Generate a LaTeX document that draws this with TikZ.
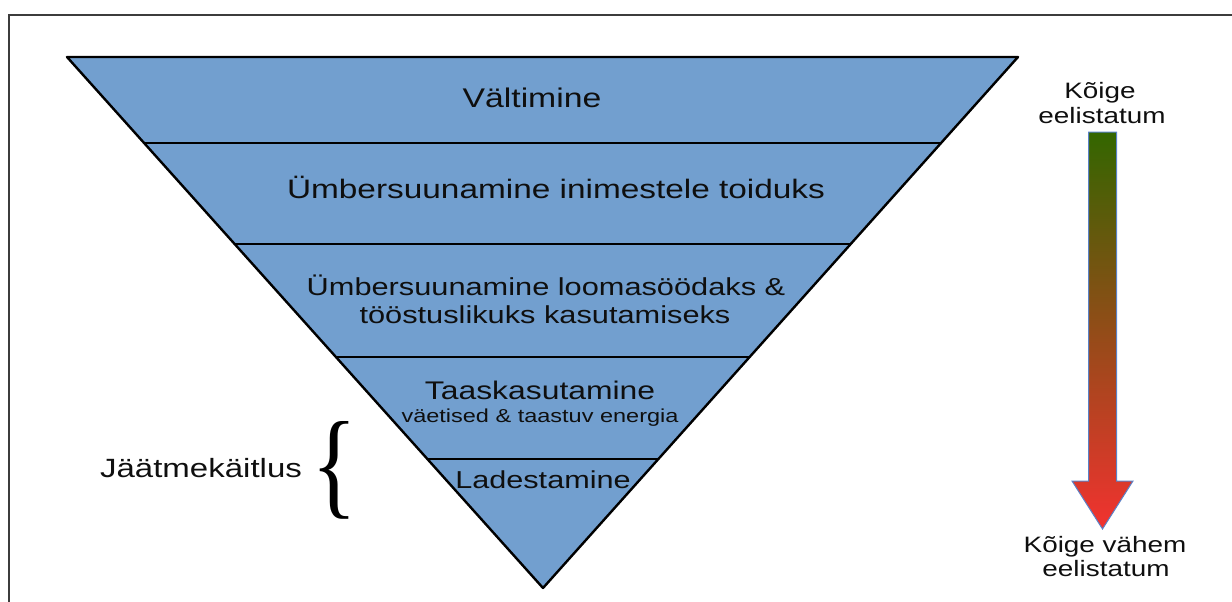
\documentclass[tikz,border=0pt]{standalone}
\usepackage{fontspec}
\setmainfont{Liberation Sans}
\newfontfamily\widefont[FakeStretch=1.25]{Liberation Sans}
\newfontfamily\bracefont{Liberation Serif}
\usepackage{graphicx}
\usetikzlibrary{calc}
\definecolor{layerblue}{RGB}{114,159,207}
\definecolor{topgreen}{RGB}{51,102,0}
\definecolor{botred}{RGB}{242,50,48}
\definecolor{arrowedge}{RGB}{90,130,200}
\definecolor{framecol}{RGB}{60,60,60}
\definecolor{textcol}{RGB}{15,15,15}
\begin{document}
\begin{tikzpicture}[x=1pt,y=-1pt,
  label/.style={anchor=base,inner sep=0pt,text=textcol,font=\widefont\fontsize{#1}{#1}\selectfont},
  layer/.style={fill=layerblue,draw=black,line width=2.4pt,line join=round},
  divider/.style={draw=black,line width=2.2pt},
  gradarrow/.style={top color=topgreen,bottom color=botred,draw=arrowedge,line width=1pt,line join=miter}]
\useasboundingbox (0,0) rectangle (1232,602);
% frame
\draw[framecol,line width=1.4pt] (9,602) -- (9,15) -- (1232,15);
% inverted triangle
\coordinate (A) at (67,57);
\coordinate (B) at (1018,57);
\coordinate (C) at (543,588);
\path[layer] (A) -- (B) -- (C) -- cycle;
\foreach \yy in {143,244,357,459}{
  \draw[divider] ($(A)!{(\yy-57)/531}!(C)$) -- ($(B)!{(\yy-57)/531}!(C)$);
}
% layer texts
\node[label=27] (t1) at (532,107) {Vältimine};
\node[label=26.7] (t2) at (556,198) {Ümbersuunamine inimestele toiduks};
\node[label=24.6] (t3a) at (546,295) {Ümbersuunamine loomasöödaks \&};
\node[label=24.6] (t3b) at (545,323) {tööstuslikuks kasutamiseks};
\node[label=25.5] (t4) at (540,399) {Taaskasutamine};
\node[label=18.8] (t4s) at (540,422) {väetised \& taastuv energia};
\node[label=24.5] (t5) at (543,488) {Ladestamine};
% brace and label
\node[label=26.4] (jk) at (201,477) {Jäätmekäitlus};
\node[inner sep=0pt] (brace) at (335,470) {\resizebox{46pt}{82pt}{\bracefont\{}};
% gradient arrow
\path[gradarrow] (1088.5,132) -- (1116.5,132) -- (1116.5,481) -- (1133,481) -- (1102.5,529) -- (1072,481) -- (1088.5,481) -- cycle;
\node[label=22.3] (k1) at (1100,99) {Kõige};
\node[label=22.3] (k2) at (1102,124) {eelistatum};
\node[label=22.3] (k3) at (1105,552) {Kõige vähem};
\node[label=22.3] (k4) at (1106,576) {eelistatum};
\end{tikzpicture}
\end{document}
